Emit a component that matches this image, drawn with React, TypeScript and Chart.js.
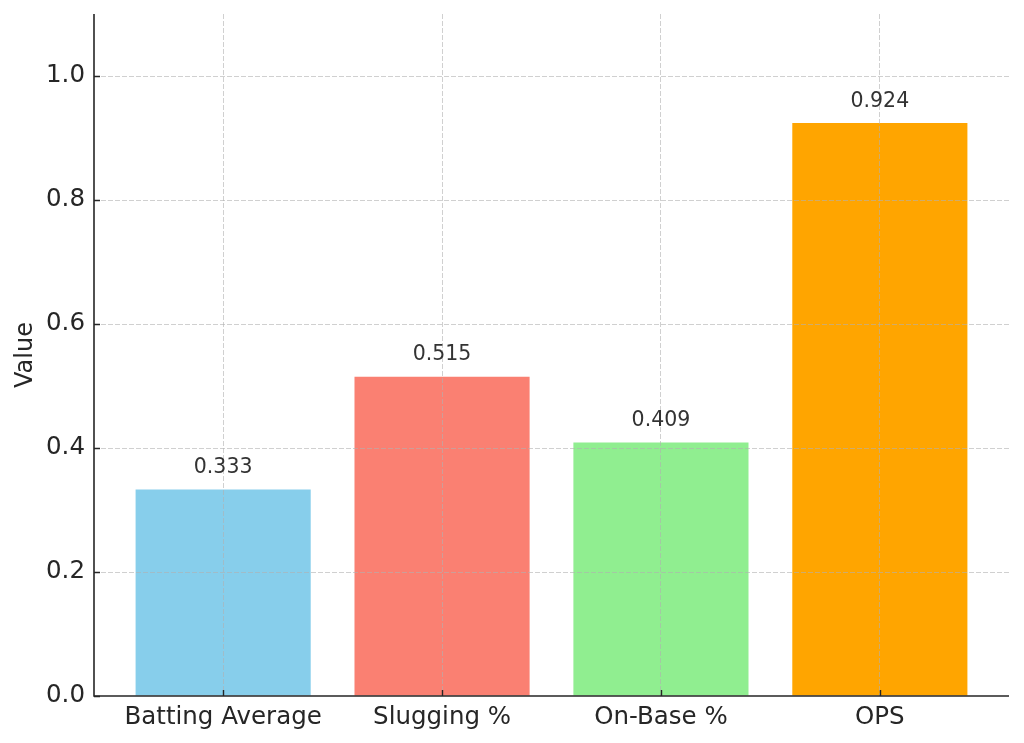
import React, { useEffect, useRef } from "react";
import { Chart, registerables } from "chart.js";

Chart.register(...registerables);

const categories = ["Batting Average", "Slugging %", "On-Base %", "OPS"];
const values = [0.333, 0.515, 0.409, 0.924];
const barColors = ["#87CEEB", "#FA8072", "#90EE90", "#FFA500"];
const yTicks = [0, 0.2, 0.4, 0.6, 0.8, 1.0];

const FONT = "'DejaVu Sans', sans-serif";
const INK = "#262626";
const GRID = "rgba(176,176,176,0.6)";

// Value labels above each bar, plus inward-pointing tick marks and spines
const barLabels = {
  id: "barLabels",
  afterDraw(chart: any) {
    const { ctx, chartArea } = chart;
    const x = chart.scales.x;
    const y = chart.scales.y;
    ctx.save();
    ctx.font = `20.5px ${FONT}`;
    ctx.fillStyle = "#333333";
    ctx.textAlign = "center";
    ctx.textBaseline = "bottom";
    values.forEach((v, i) => {
      ctx.fillText(v.toFixed(3), x.getPixelForValue(i), y.getPixelForValue(v + 0.02) + 1);
    });

    ctx.strokeStyle = INK;
    ctx.lineWidth = 1.6;
    ctx.beginPath();
    ctx.moveTo(chartArea.left, chartArea.top);
    ctx.lineTo(chartArea.left, chartArea.bottom);
    ctx.lineTo(chartArea.right, chartArea.bottom);
    ctx.stroke();
    ctx.lineWidth = 1.4;
    ctx.beginPath();
    yTicks.forEach((t) => {
      const py = Math.round(y.getPixelForValue(t)) + 0.5;
      ctx.moveTo(chartArea.left, py);
      ctx.lineTo(chartArea.left + 6, py);
    });
    categories.forEach((_, i) => {
      const px = Math.round(x.getPixelForValue(i)) + 0.5;
      ctx.moveTo(px, chartArea.bottom);
      ctx.lineTo(px, chartArea.bottom - 6);
    });
    ctx.stroke();
    ctx.restore();
  },
};

export default function App() {
  const canvasRef = useRef<HTMLCanvasElement | null>(null);

  useEffect(() => {
    document.body.style.margin = "0";
    const canvas = canvasRef.current;
    if (!canvas) return;
    const chart = new Chart(canvas, {
      type: "bar",
      data: {
        datasets: [
          {
            data: values.map((v, i) => ({ x: i, y: v })),
            backgroundColor: barColors,
            borderWidth: 0,
            categoryPercentage: 1,
            barPercentage: 0.8,
          },
        ],
      },
      options: {
        animation: false,
        responsive: false,
        maintainAspectRatio: false,
        layout: { padding: { top: 14, right: 15, left: 0, bottom: 0 } },
        plugins: {
          legend: { display: false },
          tooltip: { enabled: false },
        },
        scales: {
          x: {
            type: "linear",
            min: -0.59,
            max: 3.59,
            offset: false,
            z: 1,
            border: { display: false, dash: [5, 2] },
            grid: {
              offset: false,
              z: 1,
              color: GRID,
              lineWidth: 1,
              drawTicks: false,
            } as any,
            ticks: {
              stepSize: 1,
              includeBounds: false,
              autoSkip: false,
              maxRotation: 0,
              padding: 7,
              color: INK,
              font: { family: FONT, size: 24.5 },
              callback: (v: any) => categories[Number(v)] ?? "",
            } as any,
            afterFit: (s: any) => {
              s.height = 47;
              s.paddingLeft = 0;
              s.paddingRight = 0;
            },
          },
          y: {
            min: 0,
            max: 1.1,
            z: 1,
            border: { display: false, dash: [5, 2] },
            grid: {
              z: 1,
              color: (c: any) => (c.tick && c.tick.value === 0 ? "rgba(0,0,0,0)" : GRID),
              lineWidth: 1,
              drawTicks: false,
            } as any,
            afterBuildTicks: (s: any) => {
              s.ticks = yTicks.map((v) => ({ value: v }));
            },
            ticks: {
              padding: 9,
              color: INK,
              font: { family: FONT, size: 24.5 },
              callback: (v: any) => Number(v).toFixed(1),
            },
            title: {
              display: true,
              text: "Value",
              color: INK,
              font: { family: FONT, size: 24 },
              padding: { top: 11, bottom: 0 },
            },
            afterFit: (s: any) => {
              s.width = 94;
              s.paddingTop = 0;
              s.paddingBottom = 0;
            },
          },
        },
      },
      plugins: [barLabels],
    });
    return () => chart.destroy();
  }, []);

  return (
    <div style={{ width: 1024, height: 743 }}>
      <canvas ref={canvasRef} width={1024} height={743} />
    </div>
  );
}
